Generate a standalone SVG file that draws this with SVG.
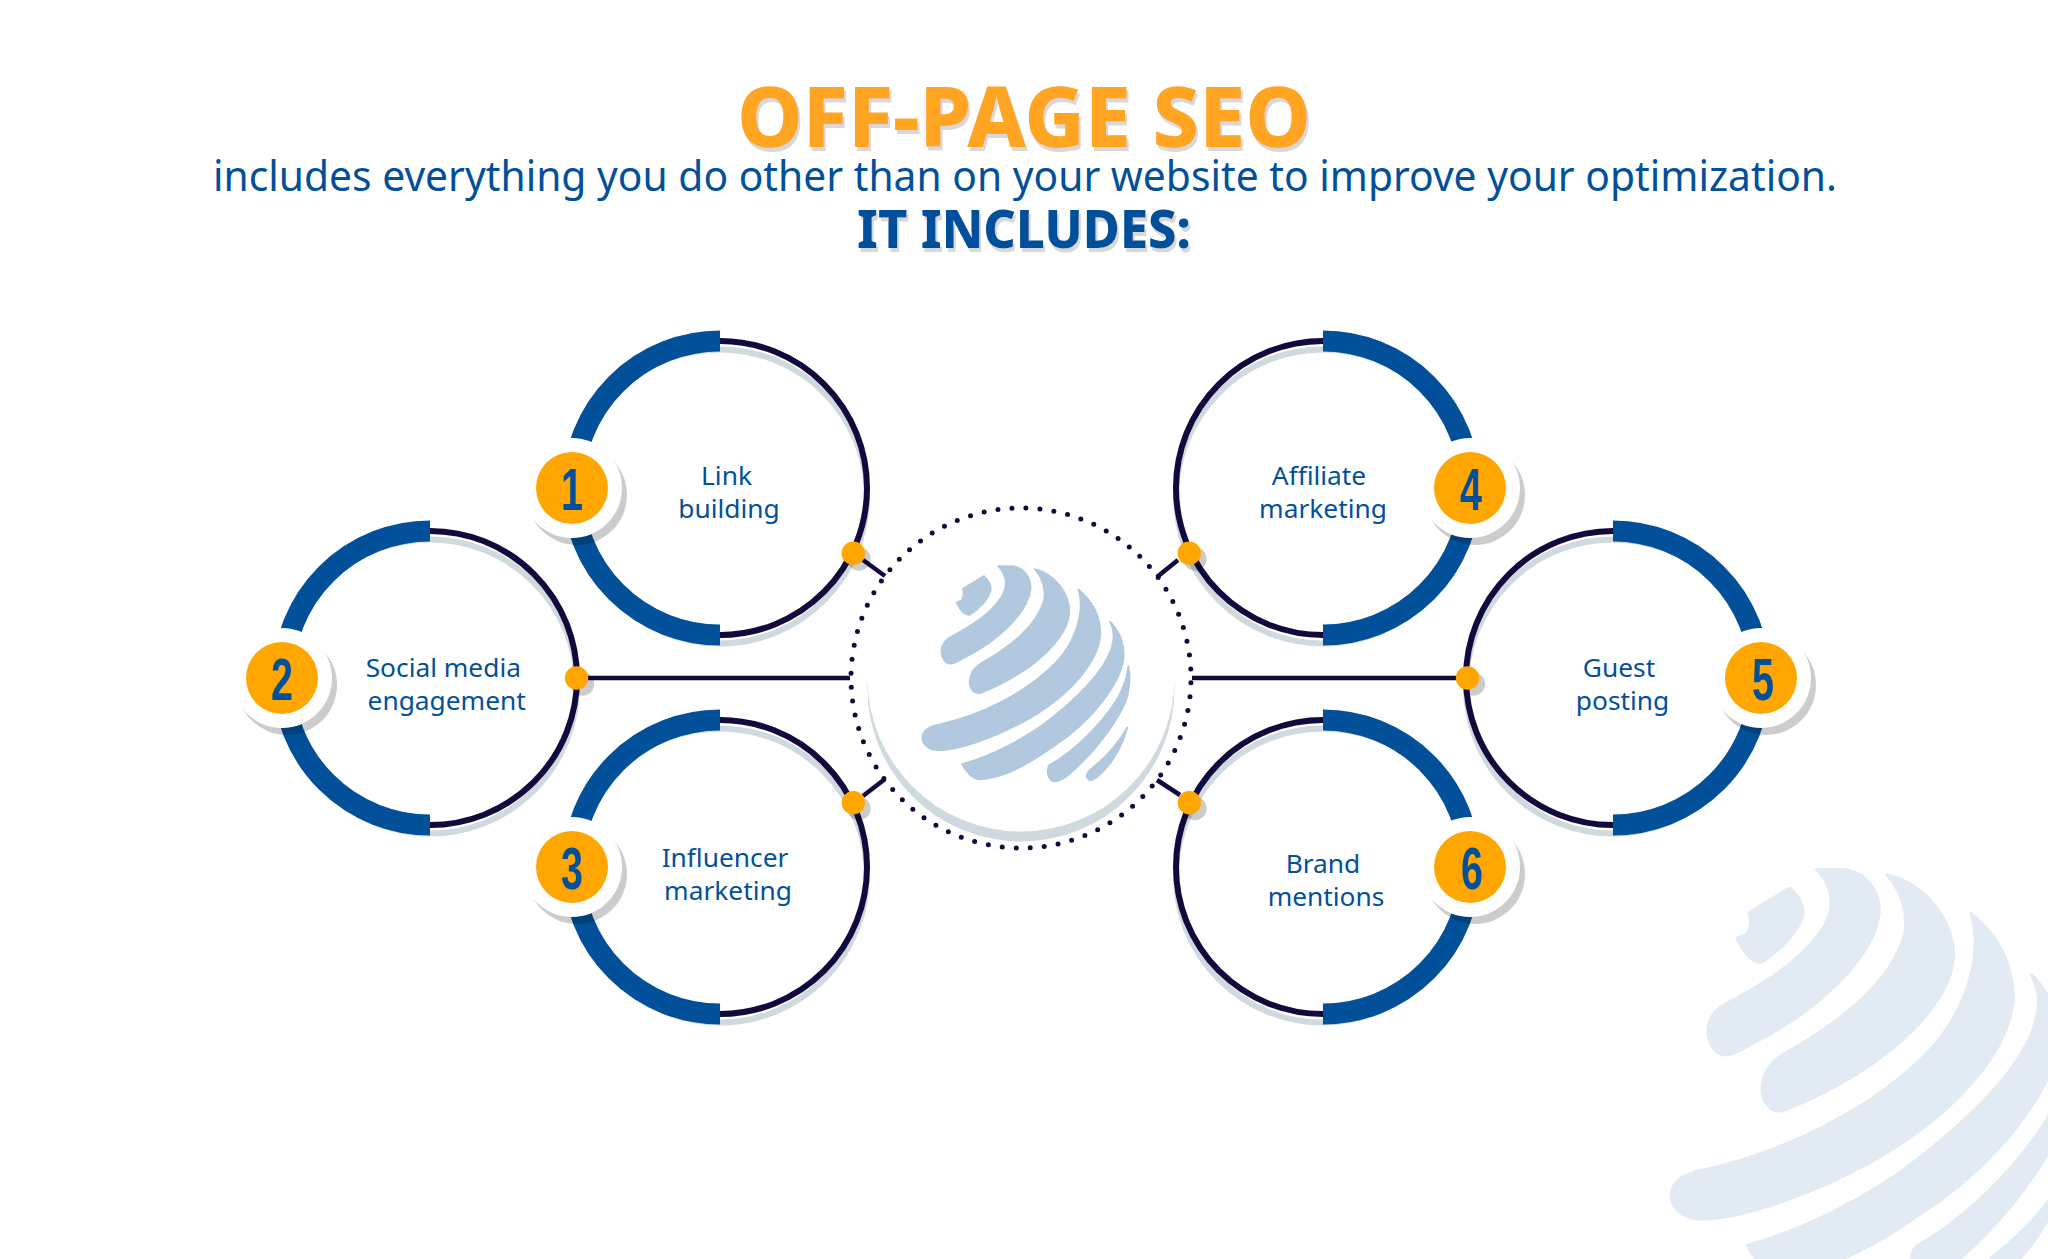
<svg xmlns="http://www.w3.org/2000/svg" width="2048" height="1259" viewBox="0 0 2048 1259">
<defs>
<style>
.f{font-family:"Noto Sans","Open Sans",sans-serif}
.t{font-weight:800;filter:url(#ts)}
.l{font-size:26.3px;fill:#03509a;text-anchor:middle}
.n{font-family:"Liberation Sans",Arial,sans-serif;font-weight:700;font-size:58.6px;fill:#03509a;text-anchor:middle}
.sh{fill:none;stroke:#cfdade;stroke-width:6}
.th{fill:none;stroke:#120a3c;stroke-width:6}
.bl{fill:none;stroke:#03509a;stroke-width:21}
.cn{fill:none;stroke:#120a3c;stroke-width:4.5}
.o{fill:#ffa600}
.ds{fill:#000;opacity:.2}
.w{fill:#fff}
</style>
<filter id="ts" x="-5%" y="-10%" width="110%" height="125%"><feDropShadow dx="2" dy="4" stdDeviation="0" flood-color="#d8d8d8"/></filter>
<g id="globe" stroke-width="5" stroke-linejoin="round">
<path d="M432 288C447 302 455 315 452 332C444 358 418 385 388 405C370 405 358 385 350 367L364 362C372 352 372 340 369 326Z"/>
<path d="M474 258L520 259C555 265 572 295 572 325C565 395 480 480 370 535C345 550 325 560 312 540C300 520 300 495 325 475C390 440 450 405 485 350C505 315 500 285 474 258Z"/>
<path d="M584 267C645 282 688 340 688 395C685 470 590 570 425 638C405 645 392 630 389 610C388 585 400 565 420 552C510 500 590 440 612 360C618 325 605 290 584 267Z"/>
<path d="M715 328C760 365 782 410 781 465C775 540 700 640 560 720C450 780 340 815 285 810C255 805 245 785 247 770C250 750 270 738 300 733C420 705 560 640 650 545C710 480 735 390 715 328Z"/>
<path d="M810 425C840 455 853 490 851 535C840 610 760 720 640 800C570 850 490 895 420 898C395 898 375 870 366 852C450 830 560 775 640 710C720 645 810 560 820 480C822 460 820 445 810 425Z"/>
<path d="M865 558C872 590 870 640 850 680C815 750 750 830 690 880C670 900 645 910 632 900C620 885 620 870 628 855C700 815 780 738 830 660C850 625 862 590 865 558Z"/>
<path d="M862 742C850 790 820 850 775 888C760 903 745 905 740 890C740 880 745 872 755 865C800 830 835 790 862 742Z"/>
</g>
</defs>
<rect width="2048" height="1259" fill="#fff"/>
<use href="#globe" transform="translate(1513.2 705.9) scale(.64 .633)" fill="#e2ebf3" stroke="#e2ebf3"/>

<g id="title">
<text class="f t" x="737" y="147" font-size="84" fill="#ffa523" textLength="574" lengthAdjust="spacingAndGlyphs">OFF-PAGE SEO</text>
<text class="f" x="213" y="191" font-size="42" fill="#03509a" textLength="1624" lengthAdjust="spacingAndGlyphs">includes everything you do other than on your website to improve your optimization.</text>
<text class="f t" x="857" y="248" font-size="53" fill="#03509a" textLength="334" lengthAdjust="spacingAndGlyphs">IT INCLUDES:</text>
</g>

<g id="connectors">
<path class="cn" d="M863 560L885 576M1178 560L1157 577M863 796L885 779M1180 795L1157 780M576 678H850M1192 678H1467"/>
</g>

<g id="hub">
<circle cx="1021" cy="678" r="170" fill="none" stroke="#120a3c" stroke-width="5" stroke-linecap="round" stroke-dasharray="0 14.053" stroke-dashoffset="-4.7"/>
<circle cx="1021" cy="688" r="153.5" fill="#cfdade"/>
<circle cx="1021" cy="678" r="153.5" class="w"/>
<use href="#globe" transform="translate(840 480) scale(.33333)" fill="#b1c8de" stroke="#b1c8de"/>
</g>

<g id="node1">
<circle class="sh" cx="720" cy="496.5" r="147"/><circle class="th" cx="720" cy="488" r="147"/>
<path class="bl" d="M720 341A147 147 0 0 0 720 635"/>
<circle class="ds" cx="577" cy="495" r="50"/><circle class="w" cx="572" cy="488" r="50"/><circle class="o" cx="572" cy="488" r="36"/>
<text class="n" x="572" y="510" textLength="22" lengthAdjust="spacingAndGlyphs">1</text>
<circle class="ds" cx="859" cy="559" r="11.7"/><circle class="o" cx="853.3" cy="553.3" r="11.7"/>
<text class="f l"><tspan x="726.5" y="484.5">Link</tspan><tspan x="729" y="517.5">building</tspan></text>
</g>
<g id="node2">
<circle class="sh" cx="430" cy="686.5" r="147"/><circle class="th" cx="430" cy="678" r="147"/>
<path class="bl" d="M430 531A147 147 0 0 0 430 825"/>
<circle class="ds" cx="287" cy="685" r="50"/><circle class="w" cx="282" cy="678" r="50"/><circle class="o" cx="282" cy="678" r="36"/>
<text class="n" x="282" y="700" textLength="22" lengthAdjust="spacingAndGlyphs">2</text>
<circle class="ds" cx="582.5" cy="684" r="11.7"/><circle class="o" cx="576.5" cy="678" r="11.7"/>
<text class="f l"><tspan x="443.3" y="676.5">Social media</tspan><tspan x="446.7" y="709.5">engagement</tspan></text>
</g>
<g id="node3">
<circle class="sh" cx="720" cy="875.5" r="147"/><circle class="th" cx="720" cy="867" r="147"/>
<path class="bl" d="M720 720A147 147 0 0 0 720 1014"/>
<circle class="ds" cx="577" cy="874" r="50"/><circle class="w" cx="572" cy="867" r="50"/><circle class="o" cx="572" cy="867" r="36"/>
<text class="n" x="572" y="889" textLength="22" lengthAdjust="spacingAndGlyphs">3</text>
<circle class="ds" cx="859" cy="808.5" r="11.7"/><circle class="o" cx="853.3" cy="802.7" r="11.7"/>
<text class="f l"><tspan x="725" y="866.5">Influencer</tspan><tspan x="728" y="899.5">marketing</tspan></text>
</g>
<g id="node4">
<circle class="sh" cx="1323" cy="496.5" r="147"/><circle class="th" cx="1323" cy="488" r="147"/>
<path class="bl" d="M1323 341A147 147 0 0 1 1323 635"/>
<circle class="ds" cx="1475" cy="495" r="50"/><circle class="w" cx="1470" cy="488" r="50"/><circle class="o" cx="1470" cy="488" r="36"/>
<text class="n" x="1471" y="510" textLength="22" lengthAdjust="spacingAndGlyphs">4</text>
<circle class="ds" cx="1195" cy="559" r="11.7"/><circle class="o" cx="1189.3" cy="553.3" r="11.7"/>
<text class="f l"><tspan x="1319" y="484.5">Affiliate</tspan><tspan x="1323" y="517.5">marketing</tspan></text>
</g>
<g id="node5">
<circle class="sh" cx="1613" cy="686.5" r="147"/><circle class="th" cx="1613" cy="678" r="147"/>
<path class="bl" d="M1613 531A147 147 0 0 1 1613 825"/>
<circle class="ds" cx="1766" cy="685" r="50"/><circle class="w" cx="1761" cy="678" r="50"/><circle class="o" cx="1761" cy="678" r="36"/>
<text class="n" x="1763" y="700" textLength="22" lengthAdjust="spacingAndGlyphs">5</text>
<circle class="ds" cx="1473.5" cy="684" r="11.7"/><circle class="o" cx="1467.5" cy="678" r="11.7"/>
<text class="f l"><tspan x="1619" y="676.5">Guest</tspan><tspan x="1622.5" y="709.5">posting</tspan></text>
</g>
<g id="node6">
<circle class="sh" cx="1323" cy="875.5" r="147"/><circle class="th" cx="1323" cy="867" r="147"/>
<path class="bl" d="M1323 720A147 147 0 0 1 1323 1014"/>
<circle class="ds" cx="1475" cy="874" r="50"/><circle class="w" cx="1470" cy="867" r="50"/><circle class="o" cx="1470" cy="867" r="36"/>
<text class="n" x="1472" y="889" textLength="22" lengthAdjust="spacingAndGlyphs">6</text>
<circle class="ds" cx="1195" cy="808.5" r="11.7"/><circle class="o" cx="1189.3" cy="802.7" r="11.7"/>
<text class="f l"><tspan x="1323" y="872.5">Brand</tspan><tspan x="1326" y="905.5">mentions</tspan></text>
</g>
</svg>
